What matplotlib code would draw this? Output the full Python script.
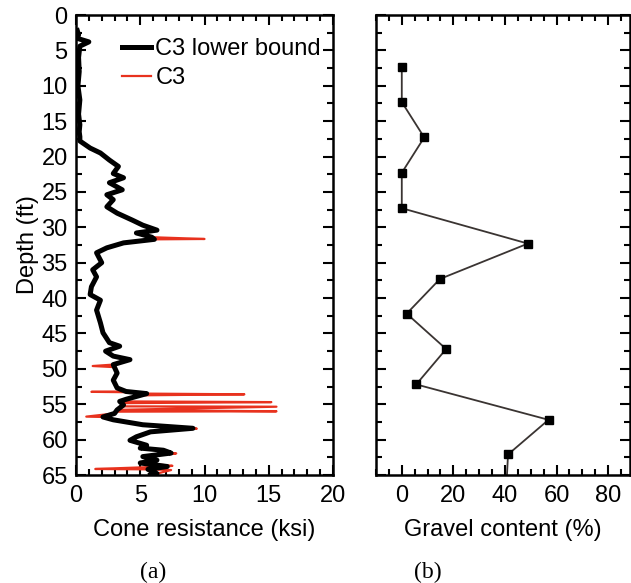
import numpy as np
import matplotlib.pyplot as plt
from matplotlib.ticker import MultipleLocator

plt.rcParams['font.family'] = ['Liberation Sans', 'DejaVu Sans']

# C3 lower bound (ksi vs depth ft)
lb_qc = [0.1, 0.2, 0.1, 1.0, 0.3, 0.2, 0.25, 0.15, 0.3, 0.2, 0.3, 0.25, 0.3,
         0.3, 1.1, 1.9, 2.6, 3.3, 2.9, 3.7, 2.6, 3.6, 2.4, 2.9, 2.4, 3.2,
         4.4, 5.2, 6.3, 4.7, 5.9, 6.1, 3.7, 2.4, 1.6, 2.0, 1.3, 1.6, 1.2,
         1.1, 1.9, 1.6, 1.9, 2.1, 2.6, 3.4, 2.3, 2.9, 4.2, 2.9, 3.2, 2.9,
         3.2, 3.9, 5.5, 4.7, 3.9, 3.4, 3.7, 3.2, 3.0, 2.1, 2.9, 5.2, 9.1,
         5.8, 4.7, 4.2, 5.5, 5.0, 6.8, 7.4, 5.2, 6.3, 5.0, 7.1, 5.6, 6.3, 5.8]
lb_depth = [2.2, 2.8, 3.3, 3.8, 4.4, 6.0, 8.0, 10.0, 12.0, 14.0, 15.5, 16.5, 17.2,
            17.8, 18.8, 19.5, 20.5, 21.4, 22.4, 23.0, 23.7, 24.7, 25.4, 26.1, 27.1, 28.0,
            29.0, 29.7, 30.4, 30.8, 31.4, 31.7, 32.2, 32.9, 33.6, 35.0, 36.0, 37.0, 38.4,
            39.5, 40.3, 41.7, 43.5, 44.9, 46.3, 46.8, 47.5, 48.2, 48.7, 49.4, 50.6, 51.6,
            52.7, 53.2, 53.5, 53.9, 54.3, 54.6, 55.1, 55.8, 56.3, 56.8, 57.2, 57.9, 58.4,
            58.9, 59.6, 60.1, 60.8, 61.2, 61.5, 61.9, 62.4, 62.9, 63.3, 63.8, 64.2, 64.8, 65.0]

# C3 excursions beyond the lower bound (tips plus the points where they rejoin)
spike_qc = [10.0, 1.3, 2.9, 1.2, 4.0, 13.1, 4.5, 15.2, 3.6,
            3.5, 15.6, 15.6, 3.2, 0.8, 9.4, 7.8, 7.5, 1.5, 7.4]
spike_depth = [31.65, 49.6, 49.75, 53.25, 53.3, 53.6, 53.75, 54.7, 54.85,
               55.3, 55.35, 56.0, 56.05, 56.75, 58.45, 61.95, 63.7, 64.15, 64.3]

# gravel content
gravel_pct = [0, 0, 8.7, 0, 0, 48.9, 14.8, 1.9, 17.2, 5.6, 56.9, 41.2, 40.5]
gravel_depth = [7.3, 12.3, 17.3, 22.3, 27.3, 32.3, 37.3, 42.2, 47.2, 52.2, 57.2, 62.1, 67.0]

c3_depth = np.array(lb_depth + spike_depth)
c3_qc = np.array(lb_qc + spike_qc)
order = np.argsort(c3_depth, kind='stable')
c3_depth = c3_depth[order]
c3_qc = c3_qc[order]

fig = plt.figure(figsize=(6.31, 5.83), dpi=100)
W, H = 631, 583
ax1 = fig.add_axes([76 / W, 1 - 475 / H, 257 / W, 460 / H])
ax2 = fig.add_axes([376 / W, 1 - 475 / H, 254 / W, 460 / H])

ax1.plot(c3_qc, c3_depth, color='#e8321e', lw=1.6, label='C3', zorder=2)
ax1.plot(lb_qc, lb_depth, color='black', lw=3.6, label='C3 lower bound', zorder=3)

ax2.plot(gravel_pct, gravel_depth, color='#3a3432', lw=1.3, marker='s',
         markersize=5.5, markerfacecolor='black', markeredgecolor='black')

ax1.set_xlim(0, 20)
ax1.set_ylim(65, 0)
ax2.set_xlim(-10, 88.5)
ax2.set_ylim(65, 0)

ax1.xaxis.set_major_locator(MultipleLocator(5))
ax1.xaxis.set_minor_locator(MultipleLocator(1))
ax2.xaxis.set_major_locator(MultipleLocator(20))
ax2.xaxis.set_minor_locator(MultipleLocator(5))
for ax in (ax1, ax2):
    ax.yaxis.set_major_locator(MultipleLocator(5))
    ax.yaxis.set_minor_locator(MultipleLocator(2.5))
    ax.tick_params(which='both', direction='in', top=True, right=True,
                   width=1.5, labelsize=17)
    ax.tick_params(which='major', length=7)
    ax.tick_params(which='minor', length=4)
    ax.tick_params(axis='x', pad=7)
    ax.tick_params(axis='y', pad=6)
    for s in ax.spines.values():
        s.set_linewidth(1.8)

ax2.set_xticks([0, 20, 40, 60, 80])
ax2.tick_params(axis='y', labelleft=False)

ax1.set_xlabel('Cone resistance (ksi)', fontsize=17, labelpad=9)
ax2.set_xlabel('Gravel content (%)', fontsize=17, labelpad=9)
ax1.set_ylabel('Depth (ft)', fontsize=17, labelpad=2)

handles, labels = ax1.get_legend_handles_labels()
ax1.legend(handles[::-1], labels[::-1], loc='upper left', bbox_to_anchor=(0.18, 0.95),
           frameon=False, fontsize=17, handlelength=1.2, handletextpad=0.2,
           labelspacing=0.3, borderpad=0, borderaxespad=0)

fig.text(153 / W, 1 - 572 / H, '(a)', ha='center', va='center', fontsize=17,
         family='Liberation Serif')
fig.text(428 / W, 1 - 572 / H, '(b)', ha='center', va='center', fontsize=17,
         family='Liberation Serif')

plt.savefig('out.png', dpi=100)
plt.close()
